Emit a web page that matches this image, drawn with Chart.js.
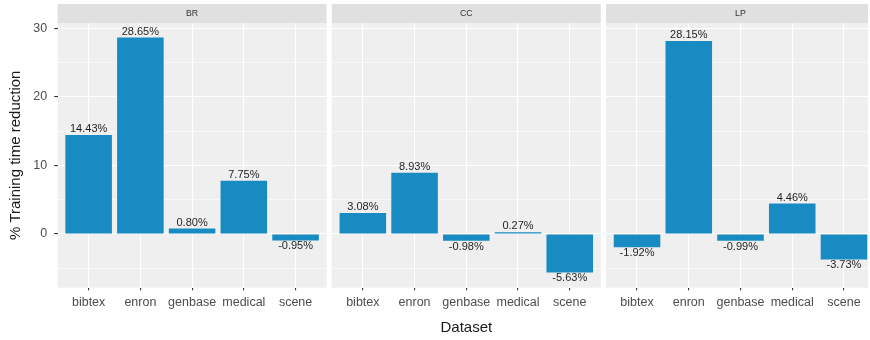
<!DOCTYPE html>
<html>
<head>
<meta charset="utf-8">
<script src="https://cdn.jsdelivr.net/npm/chart.js@4/dist/chart.umd.min.js"></script>
<style>
  html, body { margin: 0; padding: 0; background: #fff; overflow: hidden; }
  #wrap { position: relative; width: 868px; height: 340px; overflow: hidden; }
  canvas { position: absolute; top: 0; }
</style>
</head>
<body>
<div id="wrap">
  <canvas id="c0" width="329" height="340" style="left:0px"></canvas>
  <canvas id="c1" width="274" height="340" style="left:329px"></canvas>
  <canvas id="c2" width="274" height="340" style="left:603px"></canvas>
</div>
<script>
// Datasets on the x axis, one panel per method
const categories = ['bibtex', 'enron', 'genbase', 'medical', 'scene'];
const methods = ['BR', 'CC', 'LP'];

// % training time reduction per dataset
const brValues = [14.43, 28.65, 0.80, 7.75, -0.95];
const ccValues = [3.08, 8.93, -0.98, 0.27, -5.63];
const lpValues = [-1.92, 28.15, -0.99, 4.46, -3.73];

// y gridlines (major + minor) and the labelled major ticks
const yGridValues = [-5, 0, 5, 10, 15, 20, 25, 30];
const yTickLabels = [0, 10, 20, 30];

const FONT = "'Liberation Sans', Arial, Helvetica, sans-serif";
Chart.defaults.font.family = FONT;

const BAR_COLOR = '#188BC2';
const PANEL_BG = '#EFEFEF';
const STRIP_BG = '#E0E0E0';

// Panel background, facet strip and value labels
const facetPlugin = {
  id: 'facet',
  beforeDraw(chart, args, opts) {
    const { ctx, chartArea: a } = chart;
    ctx.save();
    ctx.fillStyle = PANEL_BG;
    ctx.fillRect(a.left, a.top, a.right - a.left, a.bottom - a.top);
    ctx.fillStyle = STRIP_BG;
    ctx.fillRect(a.left, 4, a.right - a.left, a.top - 4);
    ctx.fillStyle = '#333';
    ctx.font = '8.8px ' + FONT;
    ctx.textAlign = 'center';
    ctx.textBaseline = 'middle';
    ctx.fillText(opts.strip, (a.left + a.right) / 2, (4 + a.top) / 2 + 0.5);
    ctx.restore();
  },
  afterDatasetsDraw(chart, args, opts) {
    const { ctx } = chart;
    const meta = chart.getDatasetMeta(0);
    const values = opts.values;
    ctx.save();
    ctx.fillStyle = '#1f1f1f';
    ctx.font = '11px ' + FONT;
    ctx.textAlign = 'center';
    ctx.textBaseline = 'alphabetic';
    meta.data.forEach((bar, i) => {
      const v = values[i];
      const y = v >= 0 ? bar.y - 2.7 : bar.y + 8.8;
      ctx.fillText(v.toFixed(2) + '%', bar.x, y);
    });
    ctx.restore();
  }
};

const panels = [
  { id: 'c0', strip: methods[0], values: brValues, padL: 0,   padR: 2.4, showY: true,  showXTitle: false },
  { id: 'c1', strip: methods[1], values: ccValues, padL: 2.8, padR: 2.2, showY: false, showXTitle: true },
  { id: 'c2', strip: methods[2], values: lpValues, padL: 3,   padR: 2,   showY: false, showXTitle: false }
];

panels.forEach(p => {
  new Chart(document.getElementById(p.id), {
    type: 'bar',
    data: {
      datasets: [{
        data: p.values.map((v, i) => ({ x: i, y: v })),
        backgroundColor: BAR_COLOR,
        borderWidth: 0,
        categoryPercentage: 1,
        barPercentage: 0.9
      }]
    },
    options: {
      responsive: false,
      animation: false,
      devicePixelRatio: 1,
      layout: { padding: { top: 23, left: p.padL, right: p.padR, bottom: 0 } },
      plugins: {
        legend: { display: false },
        tooltip: { enabled: false },
        facet: { strip: p.strip, values: p.values }
      },
      scales: {
        x: {
          type: 'linear',
          min: -0.6,
          max: 4.6,
          offset: false,
          afterBuildTicks: s => { s.ticks = categories.map((c, i) => ({ value: i })); },
          afterFit: s => { s.height = 52.3; },
          grid: {
            color: '#ffffff', lineWidth: 1.1, offset: false,
            tickColor: '#333', tickLength: 2.6, tickWidth: 1.1
          },
          border: { display: false },
          ticks: {
            autoSkip: false, maxRotation: 0, minRotation: 0, padding: 5.2,
            color: '#4d4d4d', font: { size: 12.5 },
            callback: v => categories[v]
          },
          title: {
            display: p.showXTitle, text: 'Dataset', color: '#1a1a1a',
            font: { size: 15 }, padding: { top: 0, bottom: 3.5 }
          }
        },
        y: {
          type: 'linear',
          min: -7.83,
          max: 30.77,
          afterBuildTicks: s => { s.ticks = yGridValues.map(v => ({ value: v })); },
          afterFit: s => { s.width = p.showY ? 57.6 : 0; },
          grid: {
            color: '#ffffff',
            lineWidth: c => (c.tick && yTickLabels.includes(c.tick.value)) ? 1.1 : 0.55,
            tickColor: c => (c.tick && yTickLabels.includes(c.tick.value)) ? '#333' : 'rgba(0,0,0,0)',
            tickLength: 3.4, tickWidth: 1.1,
            drawTicks: p.showY
          },
          border: { display: false },
          ticks: {
            display: p.showY, autoSkip: false, padding: 7,
            color: '#4d4d4d', font: { size: 12.5 },
            callback: v => yTickLabels.includes(v) ? String(v) : ''
          },
          title: {
            display: p.showY, text: '% Training time reduction', color: '#1a1a1a',
            font: { size: 15 }, padding: { top: 7, bottom: 0 }
          }
        }
      }
    },
    plugins: [facetPlugin]
  });
});
</script>
</body>
</html>
